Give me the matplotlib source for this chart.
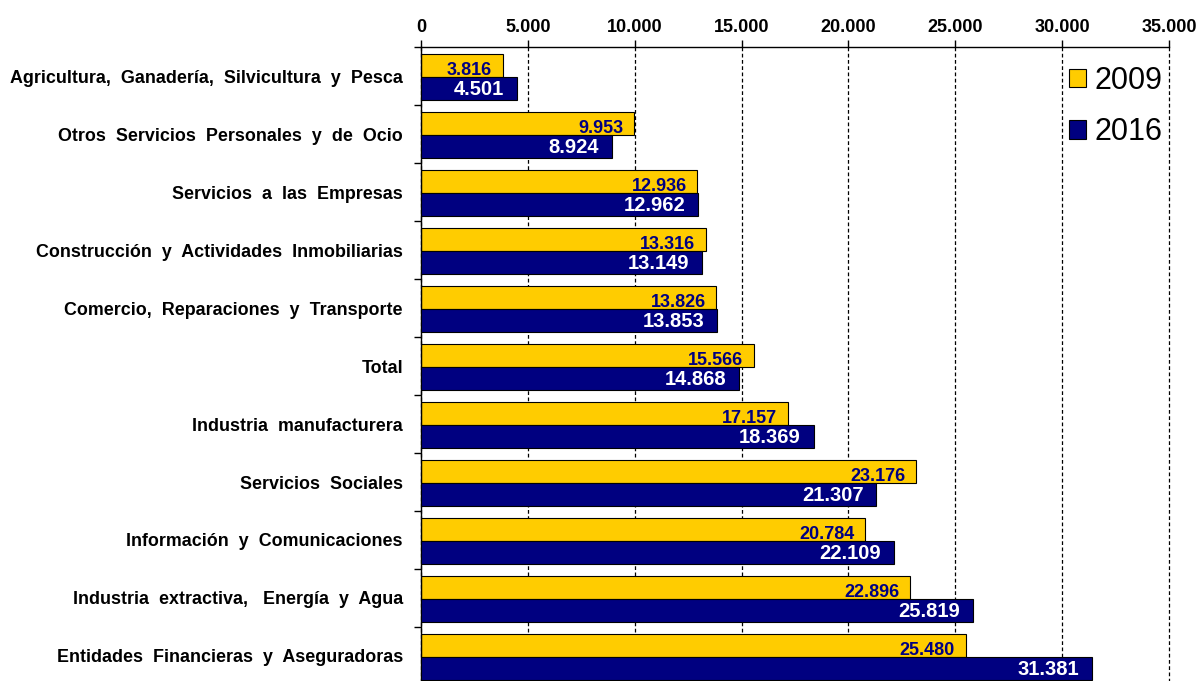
import numpy as np
import matplotlib.pyplot as plt
from matplotlib.ticker import FuncFormatter

plt.rcParams['font.family'] = ['Liberation Sans', 'DejaVu Sans']

categories = [
    "Agricultura,  Ganadería,  Silvicultura  y  Pesca",
    "Otros  Servicios  Personales  y  de  Ocio",
    "Servicios  a  las  Empresas",
    "Construcción  y  Actividades  Inmobiliarias",
    "Comercio,  Reparaciones  y  Transporte",
    "Total",
    "Industria  manufacturera",
    "Servicios  Sociales",
    "Información  y  Comunicaciones",
    "Industria  extractiva,   Energía  y  Agua",
    "Entidades  Financieras  y  Aseguradoras",
]
vals_2009 = [3816, 9953, 12936, 13316, 13826, 15566, 17157, 23176, 20784, 22896, 25480]
vals_2016 = [4501, 8924, 12962, 13149, 13853, 14868, 18369, 21307, 22109, 25819, 31381]
years = ["2009", "2016"]

def fmt(v):
    return f"{v:,.0f}".replace(",", ".")

fig = plt.figure(figsize=(11.97, 6.81), dpi=100)
ax = fig.add_axes([421/1197, 1 - 685/681, 748/1197, 638/681])

y = np.arange(len(categories))
h = 0.40
off = 0.02
b1 = ax.barh(y - h/2 + off, vals_2009, height=h, color='#FFCC00', edgecolor='black',
             linewidth=0.8, label=years[0], zorder=1)
b2 = ax.barh(y + h/2 + off, vals_2016, height=h, color='#000080', edgecolor='black',
             linewidth=0.8, label=years[1], zorder=3)

for yi, v in zip(y, vals_2009):
    ax.text(v - 500, yi + off + 0.03, fmt(v), ha='right', va='bottom', color='#000080',
            fontsize=13, fontweight='bold', zorder=2)
for yi, v in zip(y, vals_2016):
    ax.text(v - 600, yi + h/2 + off + 0.02, fmt(v), ha='right', va='center', color='white',
            fontsize=14.5, fontweight='bold', zorder=4)

ax.set_xlim(0, 35000)
ax.set_ylim(len(categories) - 0.5, -0.5)
ax.set_xticks(np.arange(0, 35001, 5000))
ax.xaxis.set_major_formatter(FuncFormatter(lambda v, p: fmt(v)))
ax.xaxis.tick_top()
ax.tick_params(axis='x', labelsize=13, length=5, width=1, pad=3)
for lab in ax.get_xticklabels():
    lab.set_fontweight('bold')

ax.set_yticks(y)
ax.set_yticklabels(categories, fontsize=12.9, fontweight='bold')
ax.set_yticks(np.arange(len(categories) + 1) - 0.5, minor=True)
ax.tick_params(axis='y', which='major', length=0, pad=13)
ax.tick_params(axis='y', which='minor', length=5, width=1)

ax.grid(axis='x', linestyle=(0, (3, 2)), color='black', linewidth=0.9, zorder=0)
for gl in ax.xaxis.get_gridlines():
    gl.set_clip_on(False)
ax.set_axisbelow(True)
for s in ['right', 'bottom']:
    ax.spines[s].set_visible(False)
ax.spines['top'].set_linewidth(1)
ax.spines['left'].set_linewidth(1)

ax.legend(loc='upper right', bbox_to_anchor=(1 - 3/748, 0.975), frameon=False, fontsize=22,
          handlelength=0.55, handleheight=0.55, handletextpad=0.3, labelspacing=0.7,
          borderaxespad=0.1, borderpad=0)

fig.savefig("out.png", dpi=100)
